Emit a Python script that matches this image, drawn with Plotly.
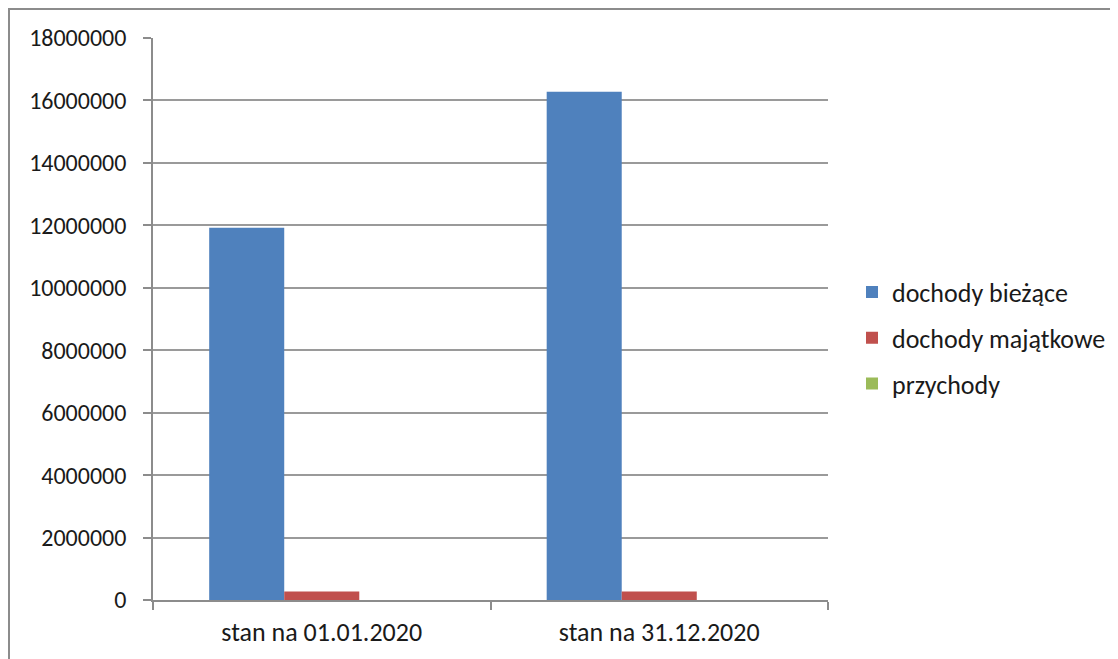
import plotly.graph_objects as go

categories = ["stan na 01.01.2020", "stan na 31.12.2020"]
series_names = ["dochody bieżące", "dochody majątkowe", "przychody"]
dochody_biezace = [11920000, 16280000]
dochody_majatkowe = [270000, 270000]
przychody = [0, 0]
colors = ["#4F81BD", "#C0504D", "#9BBB59"]
y_ticks = [0, 2000000, 4000000, 6000000, 8000000, 10000000, 12000000, 14000000, 16000000, 18000000]

W, H = 1118, 659
OFF = 8  # page body margin offset
L, R, T, B = 153 - OFF, 828 - OFF, 38 - OFF, 600 - OFF

fig = go.Figure()
for i, (name, vals) in enumerate(zip(series_names, [dochody_biezace, dochody_majatkowe, przychody])):
    fig.add_trace(go.Bar(
        x=categories, y=vals, name=name, marker_color=colors[i],
        marker_line_width=0, legendgroup=name,
    ))

pw = R - L
ph = B - T
fig.add_shape(type="rect", xref="paper", yref="paper",
              x0=(1 - L) / pw, x1=(1140 - L) / pw,
              y0=(B - 700) / ph, y1=(B - 1) / ph,
              line=dict(color="#8c8c8c", width=2), fillcolor="rgba(0,0,0,0)", layer="below")

fig.update_layout(
    width=W, height=H,
    margin=dict(l=L, r=W - R, t=T, b=H - B),
    paper_bgcolor="white", plot_bgcolor="white",
    font=dict(family="Carlito, Lato, 'Open Sans', sans-serif", size=24, color="#1a1a1a"),
    barmode="group", bargap=0.333, bargroupgap=0,
    showlegend=True,
    legend=dict(x=(852 - OFF - L) / pw, y=(B - (338 - OFF)) / ph, xanchor="left", yanchor="middle",
                font=dict(size=26), traceorder="grouped", tracegroupgap=9,
                itemwidth=30, bgcolor="rgba(0,0,0,0)"),
    xaxis=dict(showline=True, linecolor="#8c8c8c", linewidth=1.5,
               ticks="outside", tickson="boundaries", ticklen=8, tickcolor="#8c8c8c",
               tickwidth=1.5, showgrid=False, mirror=False,
               tickfont=dict(size=26), ticklabelstandoff=8),
    yaxis=dict(range=[0, 18000000], tickvals=y_ticks, ticktext=[str(v) for v in y_ticks],
               showline=True, linecolor="#8c8c8c", linewidth=1.5,
               ticks="outside", ticklen=8, tickcolor="#8c8c8c", tickwidth=1.5,
               showgrid=True, gridcolor="#9a9a9a", gridwidth=1.5, zeroline=False,
               tickfont=dict(size=24), ticklabelstandoff=12),
)

fig.write_html("out.html")
